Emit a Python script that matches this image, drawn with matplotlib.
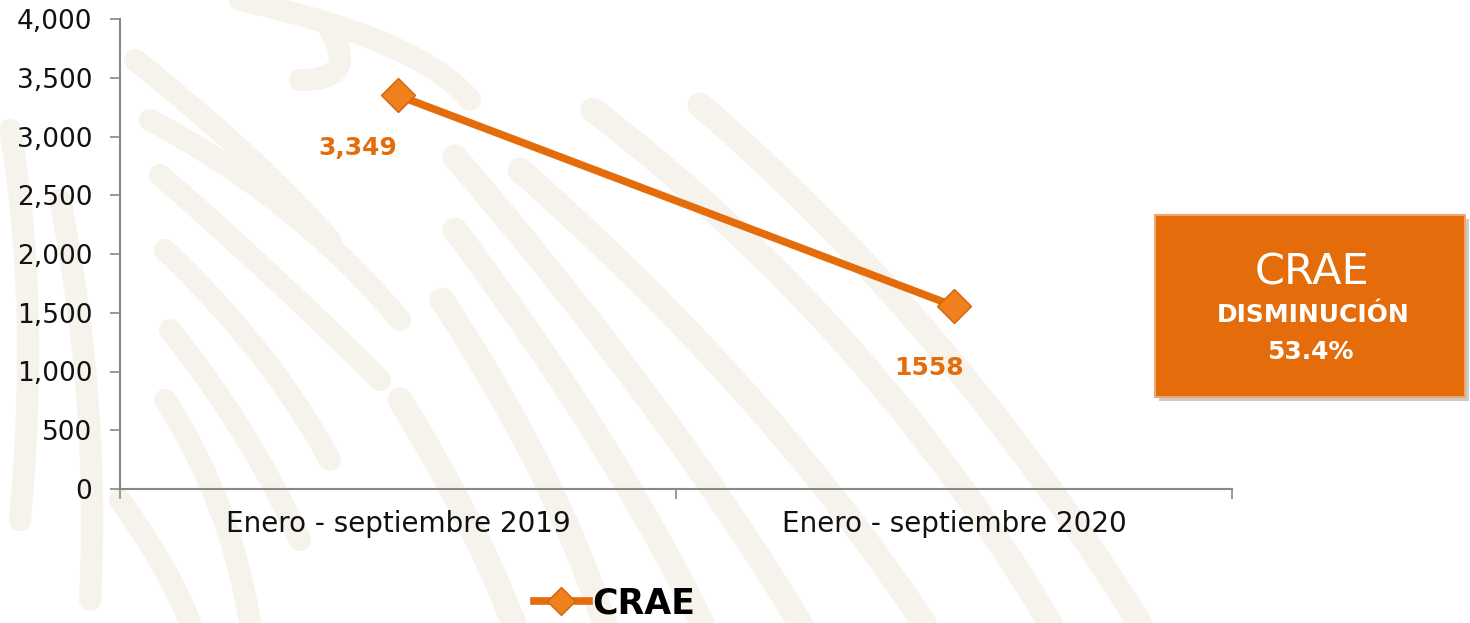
import numpy as np
import matplotlib
matplotlib.use('Agg')
import matplotlib.pyplot as plt
import matplotlib.ticker
from matplotlib.patches import Rectangle
from matplotlib.lines import Line2D

categories = ['Enero - septiembre 2019', 'Enero - septiembre 2020']
values = [3349, 1558]
value_labels = ['3,349', '1558']
series_name = 'CRAE'
box_lines = ['CRAE', 'DISMINUCIÓN', '53.4%']

ORANGE = '#E46C0A'
MARKER = '#F07F1E'
WATERMARK = '#F6F3EC'

plt.rcParams['font.family'] = 'DejaVu Sans'

W, H = 1470, 623
fig = plt.figure(figsize=(W / 100, H / 100), dpi=100)


def px(xp, yp):
    return np.asarray(xp) / W, 1 - np.asarray(yp) / H


def stroke(p0, p1, p2, lw=18):
    # quadratic bezier stroke in pixel coords, for the faint background emblem
    t = np.linspace(0, 1, 50)[:, None]
    pts = (1 - t) ** 2 * np.array(p0) + 2 * (1 - t) * t * np.array(p1) + t ** 2 * np.array(p2)
    fx, fy = px(pts[:, 0], pts[:, 1])
    fig.add_artist(Line2D(fx, fy, color=WATERMARK, linewidth=lw,
                          solid_capstyle='round', zorder=0))


# faint background watermark (decorative)
long_strokes = [
    ((593, 110), (880, 330), (1060, 640)),
    ((455, 157), (680, 420), (810, 640)),
    ((455, 230), (620, 450), (710, 640)),
    ((442, 300), (560, 480), (610, 640)),
    ((400, 400), (480, 530), (520, 640)),
    ((700, 105), (960, 330), (1150, 640)),
    ((520, 170), (780, 400), (935, 640)),
]
for s in long_strokes:
    stroke(*s)
swirls = [
    ((135, 60), (260, 160), (330, 240)),
    ((150, 120), (300, 200), (400, 320)),
    ((160, 175), (280, 280), (380, 380)),
    ((165, 250), (270, 350), (330, 460)),
    ((170, 330), (250, 430), (300, 540)),
    ((165, 400), (230, 500), (250, 623)),
    ((240, 0), (420, 40), (470, 100)),
    ((330, 30), (360, 80), (300, 80)),
    ((10, 130), (40, 300), (20, 520)),
    ((60, 200), (100, 400), (90, 600)),
    ((120, 500), (170, 570), (190, 623)),
]
for s in swirls:
    stroke(*s, lw=16)

ax = fig.add_axes([120 / W, 1 - 489 / H, 1112 / W, 470 / H])
ax.set_zorder(2)

x = np.arange(len(categories))
line, = ax.plot(x, values, color=ORANGE, linewidth=5.5, marker='D', markersize=17,
                markerfacecolor=MARKER, markeredgecolor='#D0660C', markeredgewidth=1,
                label=series_name, zorder=3)

ax.set_xlim(-0.5, 1.5)
ax.set_ylim(0, 4000)
ax.yaxis.set_major_locator(matplotlib.ticker.MultipleLocator(500))
ax.yaxis.set_major_formatter(matplotlib.ticker.FuncFormatter(lambda v, _: f'{v:,.0f}'))
ax.set_xticks(x)
ax.set_xticklabels(categories, fontsize=20, color='#111111')
ax.xaxis.set_minor_locator(matplotlib.ticker.FixedLocator([-0.5, 0.5, 1.5]))
ax.tick_params(axis='x', which='major', length=0, pad=15)
ax.tick_params(axis='x', which='minor', length=7, color='#888888', width=1.2)
ax.tick_params(axis='y', length=7, color='#888888', width=1.2, labelsize=19,
               labelcolor='#111111', pad=13)
for s in ['top', 'right']:
    ax.spines[s].set_visible(False)
for s in ['left', 'bottom']:
    ax.spines[s].set_color('#888888')
    ax.spines[s].set_linewidth(1.5)
ax.patch.set_alpha(0)

# data labels
label_offsets = [(-40, -53), (-25, -62)]
for xi, v, lab, (dx, dy) in zip(x, values, value_labels, label_offsets):
    ax.annotate(lab, (xi, v), xytext=(dx, dy), textcoords='offset pixels',
                ha='center', va='center', fontsize=18, fontweight='bold', color=ORANGE)

# legend
fig.legend(handles=[line], loc='center', bbox_to_anchor=(0.418, 0.032), frameon=False,
           prop={'size': 25, 'weight': 'bold'}, handlelength=1.6, handletextpad=0.1,
           markerscale=0.85)

# callout box
shadow = Rectangle(px(1159, 401), 310 / W, 182 / H, transform=fig.transFigure,
                   facecolor='#999999', alpha=0.5, edgecolor='none', zorder=3)
box = Rectangle(px(1155, 397), 310 / W, 182 / H, transform=fig.transFigure,
                facecolor=ORANGE, edgecolor='#F2A66A', linewidth=1.5, zorder=4)
fig.add_artist(shadow)
fig.add_artist(box)
fig.text(*px(1312, 272), box_lines[0], ha='center', va='center', zorder=5,
         color='white', fontsize=31)
fig.text(*px(1313, 315), box_lines[1], ha='center', va='center', zorder=5,
         color='white', fontsize=18, fontweight='bold')
fig.text(*px(1310, 352), box_lines[2], ha='center', va='center', zorder=5,
         color='white', fontsize=18, fontweight='bold')

fig.savefig('out.png', dpi=100)
